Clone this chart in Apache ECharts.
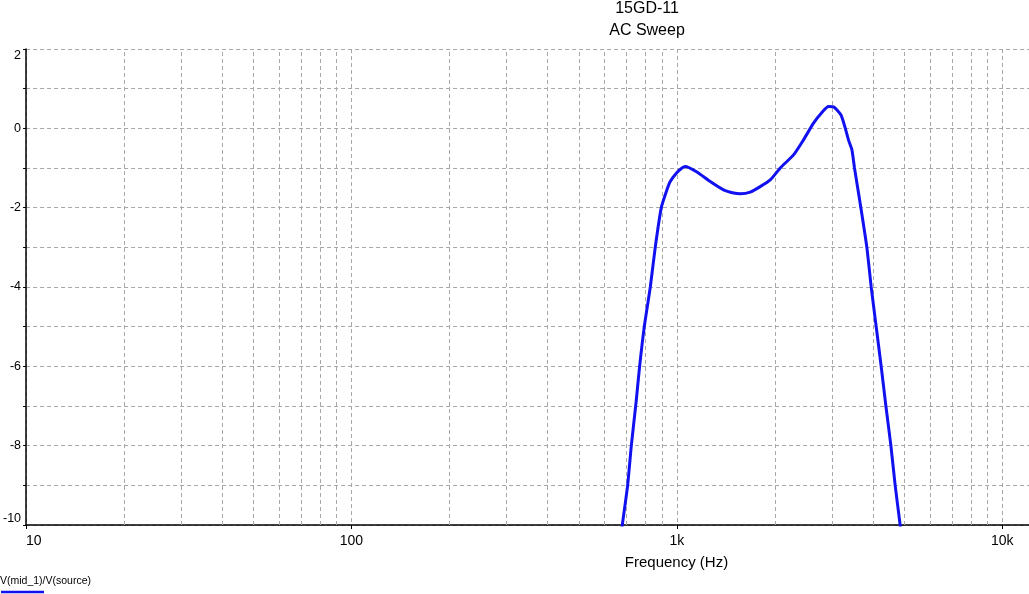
<!DOCTYPE html>
<html>
<head>
<meta charset="utf-8">
<script src="https://cdn.jsdelivr.net/npm/echarts@6/dist/echarts.min.js"></script>
<style>
  html, body { margin: 0; padding: 0; background: #fff; }
  #chart { width: 1029px; height: 594px; }
</style>
</head>
<body>
<div id="chart"></div>
<script>
// AC sweep of V(mid_1)/V(source)
const freqHz = [656, 679.6, 705.7, 724.4, 750.4, 768.2, 794, 828.5, 858, 895.5,
  932, 954, 996, 1036.8, 1061, 1152.7, 1266, 1391, 1494, 1566,
  1680, 1803, 1936, 2078, 2283, 2450, 2629, 2790, 2924, 3029,
  3191, 3290, 3367, 3450, 3514, 3676, 3835, 3955, 4097, 4244,
  4388, 4546, 4686, 4854, 5029]
const gainDb = [-11, -10, -9, -8, -6.85, -6, -5, -4, -3, -2,
  -1.55, -1.34, -1.13, -1.0, -0.96, -1.10, -1.34, -1.55, -1.63, -1.65,
  -1.61, -1.47, -1.30, -1.0, -0.67, -0.29, 0.13, 0.40, 0.55, 0.54,
  0.34, 0.01, -0.29, -0.54, -1.0, -2, -3, -4, -5, -6,
  -7, -8, -9, -10, -11]

const xTickValues = [10, 100, 1000, 10000]
const xTickLabels = ['10', '100', '1k', '10k']
// minor vertical grid (2..9 of each decade)
const minorGrid = [20, 30, 40, 50, 60, 70, 80, 90,
  200, 300, 400, 500, 600, 700, 800, 900,
  2000, 3000, 4000, 5000, 6000, 7000, 8000, 9000]

const FONT = '"Liberation Sans", Arial, sans-serif'
const gridDash = { color: '#a8a8a8', type: [4, 3], width: 1 }

const chart = echarts.init(document.getElementById('chart'))

chart.setOption({
  animation: false,
  title: [
    { text: '15GD-11', left: 647, top: 1, padding: 0, textAlign: 'center',
      textStyle: { fontSize: 16, fontWeight: 'normal', color: '#000', fontFamily: FONT } },
    { text: 'AC Sweep', left: 647, top: 23, padding: 0, textAlign: 'center',
      textStyle: { fontSize: 16, fontWeight: 'normal', color: '#000', fontFamily: FONT } }
  ],
  grid: { left: 25, right: 0, top: 49, bottom: 69, containLabel: false },
  xAxis: {
    type: 'log',
    logBase: 10,
    min: 10,
    max: 12080,
    axisLine: { onZero: false, lineStyle: { color: '#000', width: 1.5 } },
    axisTick: { show: true, length: 4, lineStyle: { color: '#000' } },
    splitLine: { show: true, lineStyle: gridDash },
    axisLabel: {
      color: '#000', fontSize: 14, fontFamily: FONT, margin: 9,
      alignMinLabel: 'left', showMaxLabel: false,
      formatter: function (v) {
        const i = xTickValues.indexOf(Math.round(v))
        return i >= 0 ? xTickLabels[i] : ''
      }
    }
  },
  yAxis: {
    type: 'value',
    min: -10,
    max: 2,
    interval: 1,
    axisLine: { show: true, onZero: false, lineStyle: { color: '#000', width: 1.5 } },
    axisTick: { show: true, length: 3, lineStyle: { color: '#000' } },
    splitLine: { show: true, lineStyle: gridDash },
    axisLabel: {
      color: '#000', fontSize: 12.5, fontFamily: FONT, margin: 5,
      verticalAlignMinLabel: 'bottom', verticalAlignMaxLabel: 'top',
      formatter: function (v) { return v % 2 === 0 ? String(v) : '' }
    }
  },
  graphic: [
    { type: 'text', x: 676.5, y: 563, silent: true,
      style: { text: 'Frequency (Hz)', fill: '#000', font: '15px ' + FONT,
        textAlign: 'center', textVerticalAlign: 'middle' } },
    { type: 'text', x: 0, y: 581, silent: true,
      style: { text: 'V(mid_1)/V(source)', fill: '#000', font: '10.5px ' + FONT,
        textAlign: 'left', textVerticalAlign: 'middle' } },
    { type: 'line', silent: true,
      shape: { x1: 1, y1: 592, x2: 44, y2: 592 },
      style: { stroke: '#1010f0', lineWidth: 2.5 } }
  ],
  series: [{
    name: 'V(mid_1)/V(source)',
    type: 'line',
    data: freqHz.map((f, i) => [f, gainDb[i]]),
    showSymbol: false,
    smooth: 0.2,
    clip: true,
    lineStyle: { color: '#1010f0', width: 3 },
    itemStyle: { color: '#1010f0' },
    z: 5,
    markLine: {
      silent: true,
      symbol: 'none',
      label: { show: false },
      lineStyle: gridDash,
      z: 1,
      data: minorGrid.map(v => ({ xAxis: v }))
    }
  }]
})
</script>
</body>
</html>
